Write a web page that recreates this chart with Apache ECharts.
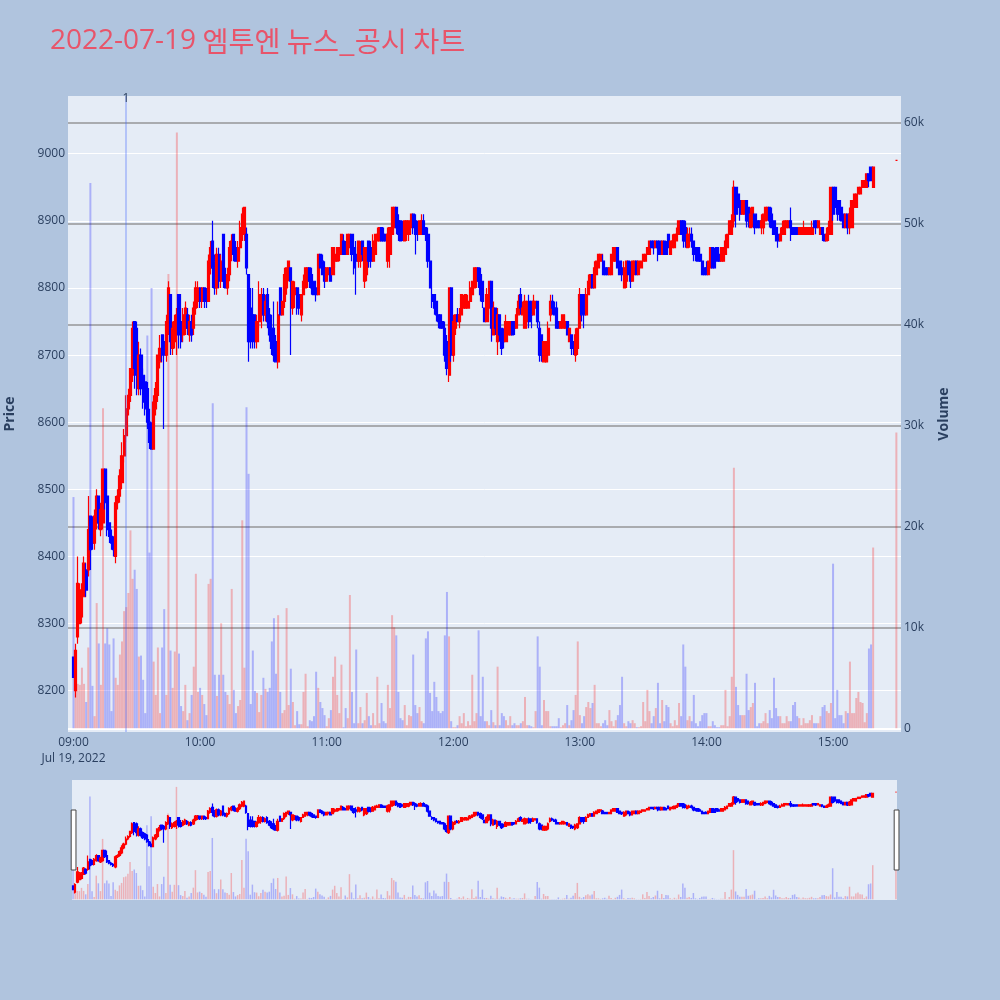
<!DOCTYPE html>
<html><head><meta charset="utf-8">
<script src="https://cdn.jsdelivr.net/npm/echarts@6/dist/echarts.min.js"></script>
<style>html,body{margin:0;padding:0;background:#B0C4DE;}#c{width:1000px;height:1000px;}</style>
</head><body><div id="c"></div>
<script>
const chartTitle = '2022-07-19 엠투엔 뉴스_공시 차트';
const dateLabel = 'Jul 19, 2022';
const sessionStart = '09:00';
const sessionMinutes = 380;          // 1-minute candles 09:00 .. 15:19
const closingTime = '15:30';         // closing auction candle
const xTickTimes = ['09:00','10:00','11:00','12:00','13:00','14:00','15:00'];
const priceTicks = [8200,8300,8400,8500,8600,8700,8800,8900,9000];
const volumeTicks = [0,10000,20000,30000,40000,50000,60000];
const volumeTickLabels = ['0','10k','20k','30k','40k','50k','60k'];
const newsTimes = ['09:24:48'];
const newsLabels = ['1'];

const opens = [
8250,8200,8280,8300,8310,8340,8380,8380,8460,8450,
8420,8450,8490,8440,8450,8530,8490,8450,8430,8420,
8400,8480,8490,8510,8550,8580,8620,8640,8670,8750,
8740,8650,8700,8670,8660,8650,8600,8580,8560,8620,
8640,8690,8730,8720,8700,8740,8790,8710,8720,8740,
8790,8750,8730,8740,8760,8730,8750,8740,8770,8780,
8800,8780,8800,8790,8780,8830,8870,8840,8800,8850,
8810,8880,8820,8800,8820,8850,8880,8860,8840,8860,
8880,8880,8880,8820,8770,8760,8760,8720,8750,8760,
8790,8760,8790,8760,8740,8740,8720,8690,8800,8760,
8780,8800,8820,8830,8770,8790,8800,8790,8760,8790,
8800,8810,8830,8820,8810,8800,8790,8850,8840,8830,
8810,8820,8830,8820,8840,8840,8850,8850,8870,8860,
8850,8860,8880,8860,8850,8840,8840,8870,8810,8820,
8870,8860,8840,8850,8870,8870,8890,8880,8880,8840,
8850,8880,8890,8920,8900,8900,8890,8870,8880,8880,
8890,8910,8900,8890,8880,8880,8900,8890,8880,8840,
8790,8790,8780,8760,8760,8750,8740,8720,8670,8800,
8700,8740,8760,8750,8760,8770,8770,8770,8780,8790,
8800,8810,8830,8820,8810,8770,8750,8770,8810,8730,
8770,8720,8760,8740,8730,8720,8730,8730,8750,8750,
8740,8760,8790,8760,8740,8750,8780,8780,8760,8770,
8780,8740,8730,8690,8690,8700,8760,8780,8770,8770,
8750,8740,8740,8740,8750,8720,8730,8720,8700,8710,
8740,8790,8790,8760,8790,8800,8820,8800,8820,8830,
8840,8840,8830,8830,8820,8820,8840,8840,8860,8840,
8830,8800,8810,8840,8830,8810,8820,8840,8820,8830,
8840,8840,8850,8850,8870,8870,8860,8870,8870,8850,
8870,8860,8880,8850,8860,8860,8870,8880,8900,8900,
8890,8860,8870,8880,8870,8860,8860,8850,8840,8830,
8830,8820,8830,8860,8850,8860,8850,8840,8840,8850,
8860,8880,8880,8900,8950,8940,8930,8910,8910,8930,
8920,8890,8900,8910,8900,8900,8890,8890,8900,8910,
8920,8910,8900,8890,8880,8870,8880,8880,8890,8890,
8900,8890,8890,8890,8880,8880,8880,8880,8880,8880,
8880,8900,8900,8890,8880,8890,8880,8870,8880,8880,
8950,8950,8930,8930,8920,8910,8890,8910,8890,8890,
8920,8920,8940,8940,8950,8950,8950,8970,8980,8950,
8990];
const closes = [
8220,8260,8360,8350,8350,8390,8350,8440,8410,8420,
8460,8490,8450,8470,8530,8480,8440,8430,8420,8410,
8480,8490,8520,8550,8580,8620,8640,8680,8740,8680,
8670,8700,8650,8630,8620,8600,8570,8560,8630,8650,
8700,8710,8700,8700,8750,8800,8720,8740,8750,8760,
8730,8720,8760,8770,8740,8750,8730,8770,8800,8800,
8780,8800,8780,8780,8840,8860,8830,8800,8850,8810,
8840,8810,8800,8820,8860,8870,8850,8840,8860,8890,
8910,8920,8830,8720,8720,8730,8720,8750,8790,8790,
8760,8780,8750,8730,8710,8700,8690,8760,8760,8780,
8820,8830,8840,8810,8810,8800,8770,8770,8790,8810,
8830,8830,8810,8800,8790,8790,8850,8830,8820,8810,
8830,8830,8810,8860,8850,8860,8860,8880,8850,8850,
8880,8880,8850,8830,8840,8870,8860,8850,8860,8860,
8840,8840,8870,8880,8880,8890,8870,8870,8870,8880,
8890,8920,8920,8890,8880,8870,8880,8900,8900,8900,
8910,8890,8880,8880,8900,8900,8880,8880,8840,8800,
8780,8770,8760,8750,8740,8740,8700,8680,8800,8700,
8750,8760,8750,8760,8790,8780,8790,8780,8800,8810,
8830,8830,8810,8790,8780,8750,8790,8810,8740,8770,
8740,8760,8730,8710,8720,8750,8750,8750,8730,8740,
8760,8780,8770,8770,8780,8780,8750,8760,8780,8780,
8750,8700,8700,8720,8720,8740,8780,8770,8760,8740,
8740,8750,8760,8750,8730,8740,8710,8710,8730,8740,
8790,8760,8760,8790,8810,8820,8800,8830,8840,8850,
8850,8820,8820,8820,8830,8850,8860,8860,8830,8820,
8820,8830,8840,8820,8810,8840,8840,8820,8840,8840,
8850,8850,8860,8870,8860,8860,8870,8860,8850,8870,
8850,8850,8860,8870,8870,8880,8880,8900,8880,8870,
8870,8880,8880,8870,8850,8850,8840,8840,8820,8820,
8820,8840,8860,8830,8830,8840,8840,8860,8860,8870,
8880,8900,8900,8950,8910,8920,8910,8930,8930,8900,
8900,8910,8920,8890,8890,8890,8900,8910,8920,8920,
8900,8890,8880,8870,8870,8880,8890,8900,8900,8900,
8890,8880,8880,8880,8890,8890,8890,8890,8890,8890,
8890,8890,8890,8900,8890,8880,8870,8880,8890,8950,
8910,8920,8910,8910,8900,8890,8910,8890,8910,8930,
8940,8940,8950,8950,8960,8960,8970,8960,8960,8980,
8990];
const lows = [
8220,8190,8270,8300,8300,8340,8340,8370,8380,8410,
8410,8440,8440,8430,8440,8470,8430,8420,8410,8400,
8390,8470,8480,8500,8540,8570,8610,8630,8660,8650,
8640,8640,8640,8620,8610,8590,8560,8560,8560,8610,
8630,8680,8690,8590,8690,8730,8700,8700,8710,8700,
8710,8710,8720,8730,8730,8720,8720,8730,8760,8770,
8770,8770,8770,8770,8780,8820,8800,8790,8790,8800,
8800,8800,8800,8790,8810,8840,8840,8840,8830,8850,
8870,8870,8820,8690,8710,8710,8710,8710,8740,8740,
8750,8750,8740,8720,8700,8690,8690,8680,8760,8760,
8770,8790,8810,8700,8760,8770,8760,8760,8750,8790,
8800,8800,8800,8790,8790,8780,8790,8830,8820,8800,
8810,8820,8810,8820,8830,8840,8840,8850,8850,8850,
8850,8860,8840,8820,8790,8830,8830,8840,8800,8810,
8830,8830,8840,8850,8870,8870,8870,8870,8870,8830,
8830,8880,8880,8880,8870,8870,8870,8870,8870,8870,
8890,8880,8850,8870,8880,8880,8880,8870,8830,8800,
8770,8760,8750,8740,8740,8740,8690,8670,8660,8690,
8690,8730,8750,8740,8760,8770,8770,8770,8780,8790,
8800,8800,8800,8780,8770,8750,8750,8760,8720,8730,
8730,8700,8720,8700,8710,8720,8730,8730,8730,8730,
8740,8760,8760,8760,8740,8740,8740,8740,8760,8770,
8740,8690,8690,8690,8690,8690,8750,8760,8760,8740,
8740,8740,8740,8740,8730,8720,8700,8700,8690,8700,
8740,8750,8740,8760,8790,8800,8800,8800,8820,8830,
8840,8820,8820,8820,8820,8820,8840,8840,8830,8820,
8810,8800,8800,8820,8800,8810,8820,8820,8820,8830,
8840,8840,8850,8850,8860,8850,8860,8840,8850,8850,
8850,8850,8860,8850,8860,8860,8870,8880,8880,8860,
8860,8860,8860,8860,8840,8840,8840,8840,8820,8820,
8820,8820,8830,8830,8830,8840,8840,8840,8840,8850,
8860,8880,8880,8890,8890,8910,8900,8910,8910,8890,
8890,8890,8890,8880,8890,8890,8880,8880,8900,8900,
8890,8890,8880,8870,8860,8870,8880,8880,8890,8890,
8870,8880,8880,8880,8880,8880,8880,8880,8880,8880,
8880,8890,8880,8890,8880,8870,8870,8870,8870,8880,
8900,8910,8900,8900,8900,8890,8890,8880,8880,8890,
8920,8920,8940,8940,8950,8950,8950,8950,8960,8950,
8990];
const highs = [
8250,8270,8400,8360,8360,8400,8390,8490,8460,8460,
8470,8500,8490,8480,8530,8530,8530,8450,8440,8430,
8490,8500,8530,8570,8590,8640,8650,8680,8750,8750,
8750,8720,8710,8680,8670,8660,8620,8600,8640,8660,
8700,8730,8730,8730,8760,8810,8790,8750,8760,8770,
8790,8770,8770,8780,8770,8760,8760,8780,8810,8810,
8800,8800,8800,8800,8850,8870,8900,8850,8860,8860,
8850,8880,8830,8830,8870,8880,8880,8870,8870,8900,
8920,8920,8890,8820,8800,8800,8760,8760,8810,8800,
8800,8790,8800,8770,8760,8780,8730,8780,8800,8780,
8830,8830,8840,8830,8810,8810,8800,8800,8790,8820,
8830,8830,8830,8830,8810,8800,8850,8850,8850,8840,
8830,8830,8830,8860,8860,8860,8860,8880,8880,8870,
8880,8880,8880,8860,8870,8870,8870,8870,8860,8860,
8870,8870,8880,8880,8890,8890,8890,8890,8880,8890,
8890,8920,8920,8920,8910,8900,8900,8900,8900,8900,
8910,8910,8910,8900,8900,8910,8910,8890,8890,8840,
8800,8790,8780,8760,8760,8750,8750,8730,8800,8800,
8760,8760,8770,8770,8790,8790,8790,8790,8810,8810,
8830,8830,8830,8830,8810,8770,8800,8810,8810,8780,
8770,8770,8760,8740,8740,8760,8750,8750,8750,8750,
8770,8790,8800,8780,8790,8780,8790,8780,8790,8780,
8780,8750,8730,8720,8720,8750,8790,8790,8780,8780,
8750,8750,8760,8760,8750,8740,8730,8720,8740,8740,
8800,8790,8790,8800,8820,8820,8820,8840,8840,8850,
8850,8850,8830,8830,8830,8850,8860,8860,8860,8840,
8830,8840,8840,8840,8840,8840,8840,8840,8840,8840,
8850,8850,8860,8870,8870,8870,8870,8870,8870,8870,
8870,8870,8880,8870,8880,8880,8890,8900,8900,8900,
8900,8890,8890,8890,8870,8860,8860,8860,8840,8830,
8840,8840,8860,8860,8860,8860,8860,8860,8860,8880,
8880,8900,8910,8960,8950,8940,8930,8930,8930,8930,
8920,8920,8920,8910,8900,8900,8910,8910,8920,8920,
8920,8920,8900,8890,8880,8890,8900,8900,8900,8900,
8920,8890,8890,8890,8890,8890,8900,8890,8890,8890,
8900,8900,8900,8900,8890,8890,8880,8890,8900,8950,
8950,8950,8930,8930,8920,8910,8910,8910,8920,8930,
8940,8940,8950,8950,8960,8960,8970,8970,8980,8980,
8990];
const volumes = [
22900,4500,4400,4300,6000,4400,2600,8000,54000,4200,
1200,12400,8400,4300,31700,8400,9900,8300,1700,8900,
5000,4300,7300,8600,11600,12000,13400,19600,14800,15700,
13800,7100,7200,4800,1500,38900,17400,43600,6600,3300,
8000,1500,8000,11800,3300,45000,7700,4000,7600,59000,
7400,2200,1700,4300,800,1500,3300,6100,15300,3600,
4000,3300,2400,1300,14300,14800,32200,5300,3200,5300,
10400,5300,3600,3300,2400,13800,3800,1500,2200,2800,
20600,6000,31800,25200,2400,7700,3700,3500,1600,3300,
5000,3900,3600,4000,8600,10900,5400,11200,3600,1500,
1800,11900,2300,5900,2600,300,1700,400,400,3600,
5400,200,800,700,1200,5600,4000,2600,2000,1300,
200,1000,1800,5100,7100,3300,1500,6300,100,2000,
1000,13200,3600,500,7800,500,2100,500,800,3500,
1200,300,1500,300,5100,500,2500,700,500,4300,
2000,11200,10000,9200,3600,1000,800,2300,300,1300,
1200,7300,2300,1500,2100,700,500,8900,9600,3500,
1700,4600,3100,1700,1500,1700,9200,13500,9100,700,
100,100,300,1200,500,1500,200,700,300,5300,
700,1500,9700,1200,5100,700,700,300,1800,600,
300,6100,300,1500,1200,800,300,1200,300,500,
300,300,500,700,3100,300,300,200,100,1700,
9100,6100,300,2800,1700,1700,200,200,200,200,
1000,100,300,500,2300,300,800,1800,3300,8600,
1300,500,1200,2100,2600,2000,2500,4300,500,500,
200,500,800,300,1800,700,200,800,1300,2300,
5100,500,200,700,500,800,500,100,100,200,
2600,700,3800,1700,500,1200,2000,4500,500,2800,
700,2300,2100,500,200,800,300,2500,1200,8300,
6100,800,1200,700,3300,500,200,700,1300,1500,
1500,200,200,700,300,100,100,300,300,3800,
200,1200,5100,25800,4100,2300,1300,1300,1300,5400,
1800,2100,2500,4500,200,500,500,700,1500,500,
1800,1000,5000,2000,1200,1200,500,500,1200,700,
700,2300,2600,1200,1000,300,1000,500,500,800,
1300,500,500,500,1200,2100,2300,1700,1500,2500,
16300,1000,3800,1300,1300,500,1700,1500,6600,1500,
1500,3000,3600,2600,2500,600,1500,7900,8300,17900,
29300];

// ---- helpers ----
function minutesOf(t) {
  const p = t.split(':').map(Number);
  return (p[0] - 9) * 60 + p[1] + (p[2] || 0) / 60;
}
function pad(n) { return (n < 10 ? '0' : '') + n; }
function timeText(v) {
  const tot = Math.round(v) + 9 * 60;
  return pad(Math.floor(tot / 60)) + ':' + pad(tot % 60);
}
const times = [];
const startMin = minutesOf(sessionStart);
for (let i = 0; i < sessionMinutes; i++) times.push(timeText(startMin + i));
times.push(closingTime);

const UP = '#ff0000', DOWN = '#0000ff';
const UPV = 'rgba(255,0,0,0.25)', DOWNV = 'rgba(0,0,255,0.25)';
const candleData = times.map((t, i) => [minutesOf(t), opens[i], closes[i], lows[i], highs[i]]);
const volData = times.map((t, i) => ({
  value: [minutesOf(t), volumes[i]],
  itemStyle: { color: closes[i] >= opens[i] ? UPV : DOWNV }
}));
const xTicks = xTickTimes.map(minutesOf);
const FONT = "'Open Sans', 'Noto Sans', sans-serif";
const TXT = '#2a3f5f';
const GRAY = 'rgba(128,128,128,0.6)';

const dSplit = chartTitle.indexOf(' ');
const titleRich = '{d|' + chartTitle.slice(0, dSplit) + '}{h| ' + chartTitle.slice(dSplit + 1) + '}';

const chart = echarts.init(document.getElementById('c'), null, { renderer: 'canvas' });
const option = {
  backgroundColor: '#B0C4DE',
  animation: false,
  title: {
    text: titleRich, left: 45, top: 22,
    textStyle: {
      fontWeight: 'normal',
      rich: {
        d: { fontFamily: FONT, fontSize: 28, fontWeight: 'normal', color: '#e8546a' },
        h: { fontFamily: "'Noto Sans CJK KR', sans-serif", fontSize: 28.3, fontWeight: 'normal', color: '#e8546a' }
      }
    }
  },
  grid: [
    { left: 68, right: 99, top: 96, bottom: 268, show: true, backgroundColor: '#E5ECF6', borderWidth: 0, outerBoundsMode: 'none' },
    { left: 72, right: 103, top: 780, bottom: 100, show: true, backgroundColor: '#E5ECF6', borderWidth: 0, outerBoundsMode: 'none' }
  ],
  xAxis: [
    {
      type: 'value', gridIndex: 0, min: -2.6, max: 392.2,
      axisLine: { show: false }, splitLine: { show: false },
      axisTick: { show: false, customValues: xTicks },
      axisLabel: {
        customValues: xTicks, color: TXT, fontFamily: FONT, fontSize: 12, margin: 3, lineHeight: 16,
        formatter: v => (Math.abs(v) < 0.01 ? timeText(v) + '\n' + dateLabel : timeText(v))
      }
    },
    { type: 'value', gridIndex: 1, min: -0.5, max: 390.5, show: false }
  ],
  yAxis: [
    {
      type: 'value', gridIndex: 0, position: 'left', min: 8138.5, max: 9086,
      axisLine: { show: false },
      axisTick: { show: false, customValues: priceTicks },
      axisLabel: { customValues: priceTicks, color: TXT, fontFamily: FONT, fontSize: 12, margin: 3, formatter: v => String(v) },
      splitLine: { show: true, lineStyle: { color: '#ffffff', width: 1 } },
      name: 'Price', nameLocation: 'middle', nameGap: 51, nameRotate: 90,
      nameTextStyle: { color: TXT, fontFamily: FONT, fontSize: 14, fontWeight: 'bold' }
    },
    {
      type: 'value', gridIndex: 0, position: 'right', min: -370, max: 62620,
      axisLine: { show: false },
      axisTick: { show: false, customValues: volumeTicks },
      axisLabel: {
        customValues: volumeTicks, color: TXT, fontFamily: FONT, fontSize: 12, margin: 3,
        formatter: v => volumeTickLabels[volumeTicks.indexOf(v)]
      },
      splitLine: { show: true, lineStyle: { color: ['#ffffff', GRAY, GRAY, GRAY, GRAY, GRAY, GRAY], width: 2 } },
      name: 'Volume', nameLocation: 'middle', nameGap: 36, nameRotate: 90,
      nameTextStyle: { color: TXT, fontFamily: FONT, fontSize: 14, fontWeight: 'bold' }
    },
    { type: 'value', gridIndex: 1, min: 8138.5, max: 9086, show: false },
    { type: 'value', gridIndex: 1, min: -370, max: 62620, show: false }
  ],
  dataZoom: [{
    type: 'slider', xAxisIndex: 0, filterMode: 'none', start: 0, end: 100,
    left: 72, right: 103, top: 780, height: 120,
    backgroundColor: 'rgba(0,0,0,0)', borderColor: 'rgba(0,0,0,0)', fillerColor: 'rgba(0,0,0,0)',
    showDataShadow: false, showDetail: false, brushSelect: false,
    dataBackground: { lineStyle: { opacity: 0 }, areaStyle: { opacity: 0 } },
    selectedDataBackground: { lineStyle: { opacity: 0 }, areaStyle: { opacity: 0 } },
    handleIcon: 'path://M0,0H8V100H0Z', handleSize: '50%',
    handleStyle: { color: '#ffffff', borderColor: '#444444', borderWidth: 1 },
    moveHandleSize: 0, moveHandleStyle: { opacity: 0 },
    emphasis: { handleStyle: { color: '#ffffff', borderColor: '#444444' }, moveHandleStyle: { opacity: 0 } }
  }],
  series: [
    {
      name: 'Volume', type: 'bar', xAxisIndex: 0, yAxisIndex: 1, barWidth: 2,
      data: volData, silent: true
    },
    {
      name: 'Price', type: 'candlestick', xAxisIndex: 0, yAxisIndex: 0, barWidth: 2.6, clip: true,
      itemStyle: { color: UP, color0: DOWN, borderColor: UP, borderColor0: DOWN, borderColorDoji: UP, borderWidth: 1.2 },
      data: candleData, silent: true,
      markLine: {
        silent: true, symbol: ['none', 'none'],
        lineStyle: { color: 'rgba(60,100,255,0.4)', width: 1.5, type: 'solid' },
        label: { show: true, position: 'end', formatter: '{b}', color: TXT, fontFamily: FONT, fontSize: 12, distance: -9 },
        data: newsTimes.map((t, i) => ({ xAxis: minutesOf(t), name: newsLabels[i] }))
      }
    },
    {
      name: 'VolumeMini', type: 'bar', xAxisIndex: 1, yAxisIndex: 3, barWidth: 1.5,
      data: volData, silent: true
    },
    {
      name: 'PriceMini', type: 'candlestick', xAxisIndex: 1, yAxisIndex: 2, barWidth: 2,
      itemStyle: { color: UP, color0: DOWN, borderColor: UP, borderColor0: DOWN, borderColorDoji: UP, borderWidth: 1.2 },
      data: candleData, silent: true
    }
  ]
};
chart.setOption(option);
</script></body></html>
